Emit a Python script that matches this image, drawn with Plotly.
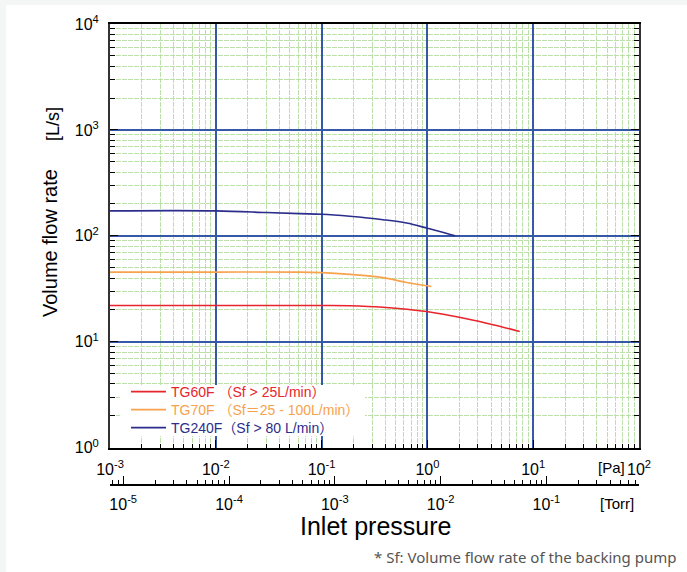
import math
import plotly.graph_objects as go

# ---------------- data ----------------
tg60_p = [0.001, 0.01, 0.1, 0.185, 0.38, 0.98, 2.34, 4.17, 7.46]
tg60_s = [22.0, 22.0, 22.0, 21.9, 21.2, 19.3, 16.5, 14.5, 12.5]

tg70_p = [0.001, 0.01, 0.062, 0.1, 0.185, 0.38, 0.635, 1.09]
tg70_s = [45.5, 45.5, 45.5, 45.0, 43.3, 40.3, 36.3, 33.3]

tg240_p = [0.001, 0.01, 0.03, 0.062, 0.1, 0.185, 0.38, 0.635, 1.0, 1.31, 1.83]
tg240_s = [172, 172, 166, 162, 160, 153, 142, 132, 118, 110, 100]

series_names = [
    "TG60F （Sf &gt; 25L/min）",
    "TG70F （Sf＝25 - 100L/min）",
    "TG240F（Sf &gt; 80 L/min）",
]
series_colors = ["#e8242c", "#f7a24c", "#2b2d8c"]

pa_decades = [-3, -2, -1, 0, 1, 2]
pa_labels = ["10<sup>-3</sup>", "10<sup>-2</sup>", "10<sup>-1</sup>",
             "10<sup>0</sup>", "10<sup>1</sup>", "10<sup>2</sup>"]
torr_decades = [-5, -4, -3, -2, -1]
torr_labels = ["10<sup>-5</sup>", "10<sup>-4</sup>", "10<sup>-3</sup>",
               "10<sup>-2</sup>", "10<sup>-1</sup>"]
flow_decades = [0, 1, 2, 3, 4]
flow_labels = ["10<sup>0</sup>", "10<sup>1</sup>", "10<sup>2</sup>",
               "10<sup>3</sup>", "10<sup>4</sup>"]

PA_PER_TORR = 133.322

# ---------------- styling ----------------
W, H = 687, 572
ML, MR, MT, MB = 110, 48, 24, 87
PW = W - ML - MR
PH = H - MT - MB
Y_AXIS_PX = 447.7
y_dom0 = (H - MB - Y_AXIS_PX) / PH

def px_x(p):
    return (p - ML) / PW

def px_y(p):
    return (H - MB - p) / PH

MAJOR = "#3558a8"
MINOR = "#bde0ab"
FONT = "Liberation Sans, Arial, sans-serif"
LEG_FONT = "Liberation Sans, Noto Sans CJK JP, sans-serif"

def minor_vals(lo, hi):
    return [m * 10 ** d for d in range(lo, hi) for m in range(2, 10)]

legend_ids = ["legend", "legend2", "legend3"]
legend_rows_px = [392, 410, 428]

fig = go.Figure()
for xs, ys, nm, col, lid in zip([tg60_p, tg70_p, tg240_p], [tg60_s, tg70_s, tg240_s],
                                series_names, series_colors, legend_ids):
    fig.add_trace(go.Scatter(
        x=xs, y=ys, mode="lines", line=dict(color=col, width=1.6, shape="spline"),
        name=f"<span style='color:{col}'>{nm}</span>", hoverinfo="skip",
        legend=lid, showlegend=True))

# invisible trace to carry the Torr axis
fig.add_trace(go.Scatter(
    x=[p / PA_PER_TORR for p in tg60_p], y=tg60_s, xaxis="x2", mode="markers",
    marker=dict(opacity=0), showlegend=False, hoverinfo="skip"))

off = math.log10(PA_PER_TORR)

legends = {}
for lid, row in zip(legend_ids, legend_rows_px):
    legends[lid] = dict(
        x=px_x(126), y=px_y(row), xanchor="left", yanchor="middle",
        bgcolor="rgba(0,0,0,0)", borderwidth=0,
        font=dict(family=LEG_FONT, size=14), itemwidth=35,
    )

fig.update_layout(
    width=W, height=H,
    margin=dict(l=ML, r=MR, t=MT, b=MB),
    paper_bgcolor="#f4f5f5",
    plot_bgcolor="white",
    font=dict(family=FONT, size=16, color="black"),
    showlegend=True,
    **legends,
    xaxis=dict(
        type="log", range=[-3, 2], domain=[0, 1], anchor="y",
        tickmode="array", tickvals=[10 ** d for d in pa_decades], ticktext=pa_labels,
        ticks="inside", ticklen=8, tickcolor="black", tickwidth=1,
        showline=True, linecolor="black", linewidth=1.6, mirror=True,
        showgrid=True, gridcolor=MAJOR, gridwidth=1.8, zeroline=False,
        tickfont=dict(family=FONT, size=16, color="black"),
        ticklabelstandoff=6,
        minor=dict(tickmode="array", tickvals=minor_vals(-3, 2), ticks="inside",
                   ticklen=4, tickcolor="black", showgrid=True,
                   gridcolor=MINOR, gridwidth=1, griddash="5px,1px"),
    ),
    xaxis2=dict(
        type="log", range=[-3 - off, 2 - off], overlaying="x", anchor="free",
        position=0, side="bottom",
        tickmode="array", tickvals=[10 ** d for d in torr_decades], ticktext=torr_labels,
        ticks="inside", ticklen=8, tickcolor="black", tickwidth=1,
        showline=True, linecolor="black", linewidth=1.6,
        showgrid=False, zeroline=False,
        tickfont=dict(family=FONT, size=16, color="black"),
        ticklabelstandoff=5,
        minor=dict(tickmode="array", tickvals=minor_vals(-6, 0), ticks="inside",
                   ticklen=4, tickcolor="black", showgrid=False),
    ),
    yaxis=dict(
        type="log", range=[0, 4], domain=[y_dom0, 1], anchor="x",
        tickmode="array", tickvals=[10 ** d for d in flow_decades], ticktext=flow_labels,
        ticks="inside", ticklen=8, tickcolor="black", tickwidth=1,
        showline=True, linecolor="#333333", linewidth=2, mirror="ticks",
        showgrid=True, gridcolor=MAJOR, gridwidth=1.8, zeroline=False,
        tickfont=dict(family=FONT, size=16, color="black"),
        ticklabelstandoff=6,
        minor=dict(tickmode="array", tickvals=minor_vals(0, 4), ticks="inside",
                   ticklen=5, tickcolor="black", showgrid=True,
                   gridcolor=MINOR, gridwidth=1, griddash="5px,1px"),
    ),
    shapes=[
        dict(type="rect", xref="paper", yref="paper", layer="below",
             x0=px_x(6), x1=px_x(W + 5), y0=px_y(H + 5), y1=px_y(5),
             fillcolor="white", line=dict(width=0)),
        dict(type="rect", xref="paper", yref="paper", layer="above",
             x0=px_x(120), x1=px_x(365), y0=px_y(436), y1=px_y(385),
             fillcolor="white", line=dict(width=0)),
    ],
    annotations=[
        dict(text="Volume flow rate", x=px_x(50), y=px_y(243), xref="paper", yref="paper",
             showarrow=False, textangle=-90, font=dict(family=FONT, size=20, color="black"),
             xanchor="center", yanchor="middle"),
        dict(text="[L/s]", x=px_x(53), y=px_y(124), xref="paper", yref="paper",
             showarrow=False, textangle=-90, font=dict(family=FONT, size=18, color="black"),
             xanchor="center", yanchor="middle"),
        dict(text="Inlet pressure", x=px_x(375), y=px_y(526), xref="paper", yref="paper",
             showarrow=False, font=dict(family=FONT, size=25, color="black"),
             xanchor="center", yanchor="middle"),
        dict(text="[Pa]", x=px_x(627), y=px_y(467), xref="paper", yref="paper",
             showarrow=False, font=dict(family=FONT, size=15, color="black"),
             xanchor="right", yanchor="middle"),
        dict(text="[Torr]", x=px_x(617), y=px_y(503), xref="paper", yref="paper",
             showarrow=False, font=dict(family=FONT, size=15, color="black"),
             xanchor="center", yanchor="middle"),
        dict(text="* Sf: Volume flow rate of the backing pump", x=px_x(678), y=px_y(557),
             xref="paper", yref="paper", showarrow=False,
             font=dict(family="Noto Sans, sans-serif", size=15, color="#555555"),
             xanchor="right", yanchor="middle"),
    ],
)

fig.write_html(
    "out.html",
    config={"displayModeBar": False},
    post_script="document.body.style.margin='0';document.body.style.padding='0';",
)
